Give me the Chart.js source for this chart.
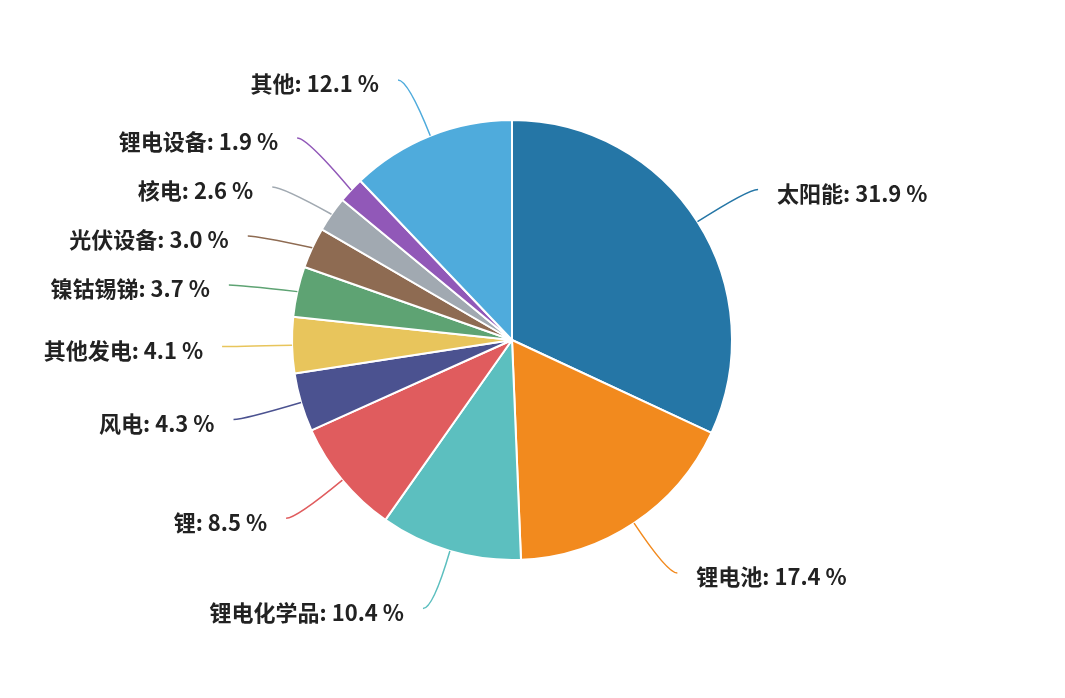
<!DOCTYPE html>
<html>
<head>
<meta charset="utf-8">
<script src="https://cdn.jsdelivr.net/npm/chart.js@4/dist/chart.umd.min.js"></script>
<style>
  html, body { margin: 0; padding: 0; background: #fff; }
  #wrap { width: 1065px; height: 698px; }
</style>
</head>
<body>
<div id="wrap"><canvas id="pieChart"></canvas></div>
<script>
const categories = ['太阳能', '锂电池', '锂电化学品', '锂', '风电', '其他发电', '镍钴锡锑', '光伏设备', '核电', '锂电设备', '其他'];
const shares = [31.9, 17.4, 10.4, 8.5, 4.3, 4.1, 3.7, 3.0, 2.6, 1.9, 12.1];
const colors = ['#2576a6', '#f28a1e', '#5cbfbf', '#e05c5e', '#4b5290', '#e8c55c', '#5ea373', '#8e6b52', '#a1a9b1', '#9158b8', '#4fabdc'];

const labelFont = 'bold 22px "Noto Sans CJK SC", "Noto Sans", sans-serif';

// leader lines + outside labels, pushed apart when they crowd
const outerLabels = {
    id: 'outerLabels',
    afterDatasetsDraw(chart) {
        const ctx = chart.ctx;
        const meta = chart.getDatasetMeta(0);
        const items = [];
        meta.data.forEach(function(arc, i) {
            const p = arc.getProps(['x', 'y', 'startAngle', 'endAngle', 'outerRadius'], true);
            const mid = (p.startAngle + p.endAngle) / 2;
            const cos = Math.cos(mid), sin = Math.sin(mid);
            const r = p.outerRadius;
            items.push({
                i: i,
                right: cos >= 0,
                ax: p.x + r * cos, ay: p.y + r * sin,
                bx: p.x + (r + 60) * cos, by: p.y + (r + 60) * sin,
                y: p.y + (r + 60) * sin
            });
        });

        const gap = 49;
        [true, false].forEach(function(side) {
            const list = items.filter(function(it) { return it.right === side; })
                .sort(function(a, b) { return a.y - b.y; });
            let groups = list.map(function(it) { return { items: [it], mean: it.y }; });
            let changed = true;
            while (changed) {
                changed = false;
                for (let k = 0; k < groups.length - 1; k++) {
                    const g1 = groups[k], g2 = groups[k + 1];
                    const end1 = g1.mean + (g1.items.length - 1) * gap / 2;
                    const start2 = g2.mean - (g2.items.length - 1) * gap / 2;
                    if (start2 - end1 < gap) {
                        const all = g1.items.concat(g2.items);
                        const sum = all.reduce(function(s, it) { return s + it.y; }, 0);
                        groups.splice(k, 2, { items: all, mean: sum / all.length });
                        changed = true;
                        break;
                    }
                }
            }
            groups.forEach(function(g) {
                const n = g.items.length;
                const shift = n > 1 ? 4 : 0;
                g.items.forEach(function(it, j) {
                    it.ly = g.mean + shift + (j - (n - 1) / 2) * gap;
                });
            });
        });

        ctx.save();
        ctx.font = labelFont;
        ctx.textBaseline = 'middle';
        items.forEach(function(it) {
            const dir = it.right ? 1 : -1;
            const cx = it.bx + dir * 10;
            ctx.strokeStyle = colors[it.i];
            ctx.lineWidth = 1.5;
            ctx.beginPath();
            ctx.moveTo(it.ax, it.ay);
            ctx.quadraticCurveTo(it.bx, it.ly, cx, it.ly);
            ctx.stroke();
            ctx.fillStyle = '#222';
            ctx.textAlign = it.right ? 'left' : 'right';
            const text = categories[it.i] + ': ' + shares[it.i].toFixed(1) + ' %';
            ctx.fillText(text, cx + dir * 19, it.ly + 4);
        });
        ctx.restore();
    }
};

const config = {
    type: 'pie',
    data: {
        labels: categories,
        datasets: [{
            data: shares,
            backgroundColor: colors,
            borderColor: '#ffffff',
            borderWidth: 2
        }]
    },
    options: {
        responsive: true,
        maintainAspectRatio: false,
        animation: false,
        layout: {
            padding: { top: 119, bottom: 137, left: 200, right: 241 }
        },
        plugins: {
            legend: { display: false },
            tooltip: { enabled: false }
        }
    },
    plugins: [outerLabels]
};

const myChart = new Chart(document.getElementById('pieChart'), config);
</script>
</body>
</html>
